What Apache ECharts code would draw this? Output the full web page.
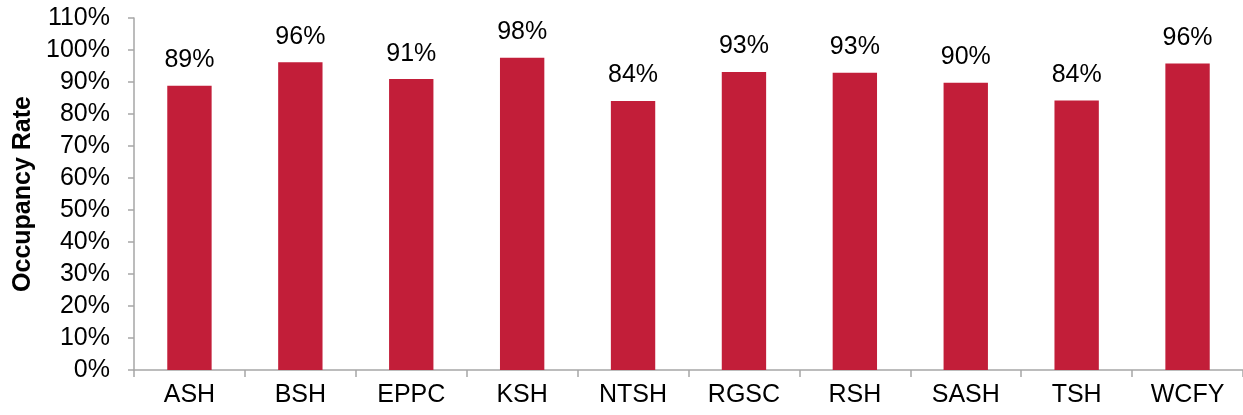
<!DOCTYPE html>
<html>
<head>
<meta charset="utf-8">
<script src="https://cdn.jsdelivr.net/npm/echarts@6/dist/echarts.min.js"></script>
<style>
  html, body { margin: 0; padding: 0; background: #fff; }
  #chart { width: 1243px; height: 415px; }
</style>
</head>
<body>
<div id="chart"></div>
<script>
// sites and occupancy (%)
var sites = ["ASH", "BSH", "EPPC", "KSH", "NTSH", "RGSC", "RSH", "SASH", "TSH", "WCFY"];
var occupancy = [88.8, 96.2, 90.9, 97.6, 84.1, 93.1, 92.9, 89.8, 84.2, 95.8];
var yTicks = [0, 10, 20, 30, 40, 50, 60, 70, 80, 90, 100, 110];

var font = "Liberation Sans, Arial, sans-serif";
var axisGray = "#A6A6A6";

var myChart = echarts.init(document.getElementById("chart"));
var option = {
  animation: false,
  textStyle: { fontFamily: font, color: "#000" },
  grid: { left: 134, right: 0, top: 18, bottom: 45 },
  xAxis: {
    type: "category",
    data: sites,
    axisLine: { lineStyle: { color: axisGray, width: 1.5 } },
    axisTick: { show: true, length: 7, alignWithLabel: false, lineStyle: { color: axisGray, width: 1.5 } },
    axisLabel: { fontSize: 25, color: "#000", fontFamily: font, margin: 13 }
  },
  yAxis: {
    type: "value",
    min: yTicks[0],
    max: yTicks[yTicks.length - 1],
    interval: 10,
    name: "Occupancy Rate",
    nameLocation: "middle",
    nameGap: 95,
    nameTextStyle: { fontSize: 25, fontWeight: "bold", color: "#000", fontFamily: font },
    axisLine: { show: true, lineStyle: { color: axisGray, width: 1.5 } },
    axisTick: { show: true, length: 6, lineStyle: { color: axisGray, width: 1.5 } },
    splitLine: { show: false },
    axisLabel: {
      fontSize: 25, color: "#000", fontFamily: font, margin: 24,
      formatter: function (v) { return v + "%"; }
    }
  },
  series: [
    {
      type: "bar",
      data: occupancy,
      barWidth: "40%",
      itemStyle: { color: "#C21E39" },
      label: {
        show: true,
        position: "top",
        distance: 13,
        fontSize: 25,
        color: "#000",
        fontFamily: font,
        formatter: function (p) { return Math.round(p.value) + "%"; }
      }
    }
  ]
};
myChart.setOption(option);
</script>
</body>
</html>
